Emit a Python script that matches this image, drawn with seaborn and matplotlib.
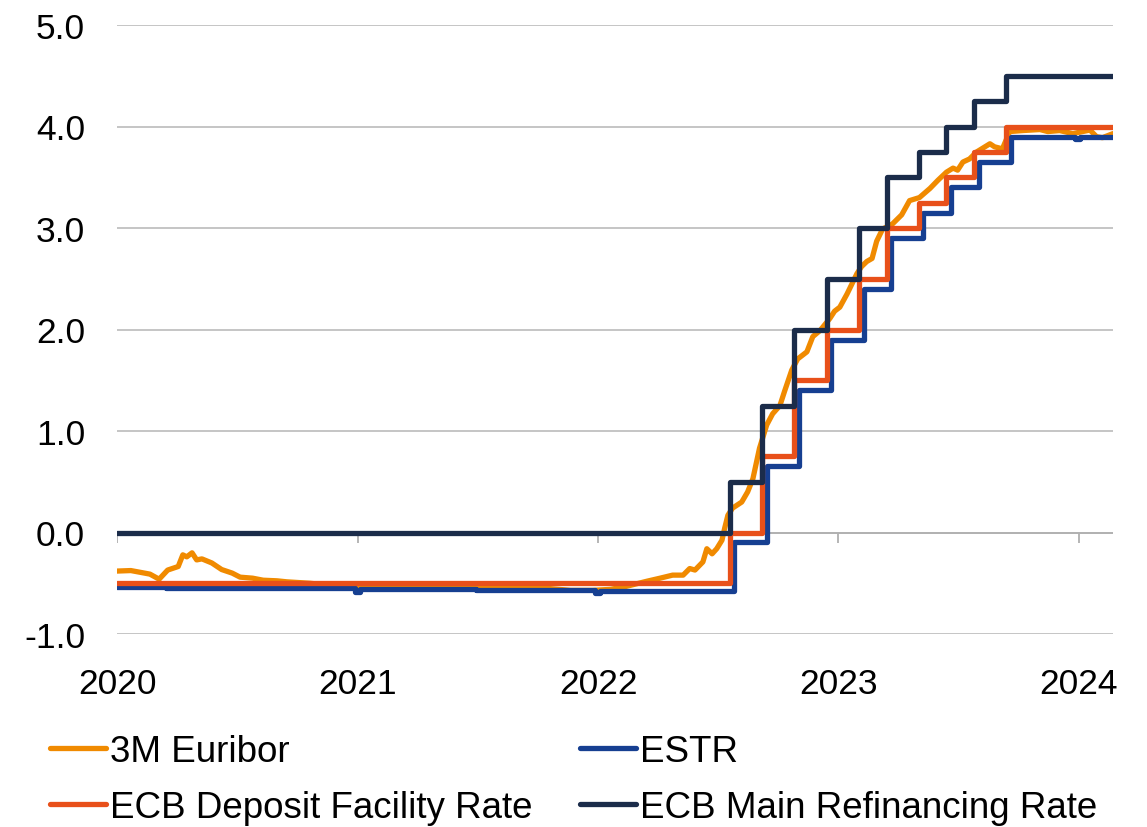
import matplotlib
matplotlib.use("Agg")
import matplotlib.pyplot as plt
import pandas as pd
import seaborn as sns

# ---------------- data ----------------
euribor_dates = [
    "2020-01-01", "2020-01-22", "2020-02-20", "2020-03-05", "2020-03-18", "2020-04-03",
    "2020-04-10", "2020-04-16", "2020-04-24", "2020-05-01", "2020-05-09", "2020-05-24",
    "2020-06-08", "2020-06-24", "2020-07-06", "2020-07-25", "2020-08-10", "2020-08-31",
    "2020-09-15", "2020-10-20", "2020-11-20", "2020-12-20", "2021-02-15", "2021-05-15",
    "2021-08-15", "2021-10-15", "2021-11-20", "2021-12-24", "2022-01-20", "2022-02-13",
    "2022-03-16", "2022-04-05", "2022-04-24", "2022-05-10", "2022-05-20", "2022-05-28",
    "2022-06-09", "2022-06-15", "2022-06-23", "2022-06-30", "2022-07-08", "2022-07-12",
    "2022-07-17", "2022-07-24", "2022-08-07", "2022-08-16", "2022-08-24", "2022-09-03",
    "2022-09-14", "2022-09-23", "2022-10-04", "2022-10-11", "2022-10-22", "2022-10-31",
    "2022-11-14", "2022-11-23", "2022-12-04", "2022-12-19", "2022-12-26", "2023-01-03",
    "2023-01-14", "2023-01-29", "2023-02-05", "2023-02-13", "2023-02-21", "2023-02-28",
    "2023-03-09", "2023-03-24", "2023-04-07", "2023-04-19", "2023-05-04", "2023-05-20",
    "2023-06-01", "2023-06-14", "2023-06-24", "2023-07-01", "2023-07-09", "2023-07-19",
    "2023-07-30", "2023-08-19", "2023-08-26", "2023-09-07", "2023-09-18", "2023-10-08",
    "2023-11-03", "2023-11-15", "2023-12-03", "2023-12-23", "2024-01-18", "2024-01-28",
    "2024-02-06", "2024-02-22",
]
euribor_vals = [
    -0.38, -0.375, -0.41, -0.46, -0.37, -0.335,
    -0.22, -0.24, -0.20, -0.27, -0.26, -0.30,
    -0.365, -0.40, -0.44, -0.45, -0.47, -0.476,
    -0.486, -0.50, -0.52, -0.54, -0.54, -0.54,
    -0.545, -0.55, -0.57, -0.57, -0.56, -0.53,
    -0.48, -0.45, -0.42, -0.42, -0.355, -0.37,
    -0.29, -0.16, -0.21, -0.16, -0.076, 0.04,
    0.17, 0.24, 0.30, 0.40, 0.53, 0.83,
    1.06, 1.17, 1.25, 1.39, 1.60, 1.71,
    1.78, 1.93, 1.99, 2.11, 2.18, 2.22,
    2.35, 2.55, 2.62, 2.67, 2.70, 2.87,
    2.99, 3.04, 3.13, 3.27, 3.30, 3.39,
    3.47, 3.55, 3.59, 3.57, 3.65, 3.68,
    3.75, 3.83, 3.80, 3.78, 3.95, 3.96,
    3.97, 3.95, 3.96, 3.93, 3.965, 3.90,
    3.89, 3.93,
]

policy_dates = ["2020-01-01", "2022-07-20", "2022-09-07", "2022-10-26", "2022-12-14",
                "2023-02-01", "2023-03-15", "2023-05-03", "2023-06-14", "2023-07-26",
                "2023-09-13", "2024-02-22"]
mro_vals = [0.00, 0.50, 1.25, 2.00, 2.50, 3.00, 3.50, 3.75, 4.00, 4.25, 4.50, 4.50]
dfr_vals = [-0.50, 0.00, 0.75, 1.50, 2.00, 2.50, 3.00, 3.25, 3.50, 3.75, 4.00, 4.00]

estr_dates = ["2020-01-01", "2020-03-15", "2020-12-28", "2021-01-04", "2021-06-30",
              "2021-12-27", "2022-01-04", "2022-07-27", "2022-09-14", "2022-11-02",
              "2022-12-21", "2023-02-08", "2023-03-22", "2023-05-10", "2023-06-21",
              "2023-08-02", "2023-09-20", "2023-12-27", "2024-01-03", "2024-02-22"]
estr_vals = [-0.54, -0.545, -0.59, -0.56, -0.565,
             -0.595, -0.58, -0.09, 0.66, 1.40,
             1.90, 2.40, 2.90, 3.15, 3.40,
             3.65, 3.90, 3.875, 3.90, 3.90]

series_labels = ["3M Euribor", "ESTR", "ECB Deposit Facility Rate", "ECB Main Refinancing Rate"]
series_colors = ["#F08A00", "#163F91", "#E8501A", "#1B2C4A"]
year_ticks = ["2020", "2021", "2022", "2023", "2024"]
y_ticks = [-1.0, 0.0, 1.0, 2.0, 3.0, 4.0, 5.0]
x_start, x_end = "2020-01-01", "2024-02-22"

# ---------------- style ----------------
sns.set_theme(style="white")
plt.rcParams["font.family"] = ["Liberation Sans", "DejaVu Sans"]
plt.rcParams["text.color"] = "black"

fig = plt.figure(figsize=(11.47, 8.28), dpi=100)
ax = fig.add_axes([117 / 1147, 1 - 635 / 828, (1113 - 117) / 1147, (635 - 26) / 828])

eur = pd.DataFrame({"date": pd.to_datetime(euribor_dates), "rate": euribor_vals})
pol = pd.DataFrame({"date": pd.to_datetime(policy_dates), "mro": mro_vals, "dfr": dfr_vals})
est = pd.DataFrame({"date": pd.to_datetime(estr_dates), "rate": estr_vals})

lw = 3.8
handles = {}
sns.lineplot(data=eur, x="date", y="rate", ax=ax, color=series_colors[0], lw=lw,
             estimator=None, legend=False, zorder=3)
handles[series_labels[0]] = ax.lines[-1]
sns.lineplot(data=est, x="date", y="rate", ax=ax, color=series_colors[1], lw=lw,
             estimator=None, legend=False, drawstyle="steps-post", zorder=4)
handles[series_labels[1]] = ax.lines[-1]
sns.lineplot(data=pol, x="date", y="dfr", ax=ax, color=series_colors[2], lw=lw,
             estimator=None, legend=False, drawstyle="steps-post", zorder=5)
handles[series_labels[2]] = ax.lines[-1]
sns.lineplot(data=pol, x="date", y="mro", ax=ax, color=series_colors[3], lw=lw,
             estimator=None, legend=False, drawstyle="steps-post", zorder=6)
handles[series_labels[3]] = ax.lines[-1]

# axes
ax.set_xlim(pd.Timestamp(x_start), pd.Timestamp(x_end))
ax.set_ylim(min(y_ticks), max(y_ticks))
ax.set_yticks(y_ticks)
ax.set_yticklabels([f"{v:.1f}" for v in y_ticks])
tick_pos = [pd.Timestamp(f"{y}-01-01") for y in year_ticks]
ax.set_xticks(tick_pos)
ax.set_xticklabels(year_ticks)
ax.set_xlabel("")
ax.set_ylabel("")
for s in ax.spines.values():
    s.set_visible(False)
ax.grid(axis="y", color="#C0C0C0", lw=1.3, zorder=0)
ax.grid(axis="x", visible=False)
ax.set_axisbelow(True)
ax.tick_params(axis="both", length=0, labelsize=25.5, colors="black")
ax.tick_params(axis="x", pad=24)
ax.tick_params(axis="y", pad=23)
# horizontal axis crossing at zero, with downward tick marks
ax.axhline(0, color="#B0B0B0", lw=1.3, zorder=1)
ax.vlines(tick_pos, -0.1, 0, color="#B0B0B0", lw=1.3, zorder=1)

order = [series_labels[0], series_labels[2], series_labels[1], series_labels[3]]
leg = fig.legend([handles[k] for k in order], order, ncol=2, loc="upper left",
                 bbox_to_anchor=(0.044, 0.112), frameon=False, fontsize=26.5,
                 handlelength=1.5, handletextpad=0.12, columnspacing=1.3,
                 labelspacing=0.55, borderpad=0, borderaxespad=0)
for t in leg.get_texts():
    t.set_color("black")

fig.savefig("out.png", dpi=100)
